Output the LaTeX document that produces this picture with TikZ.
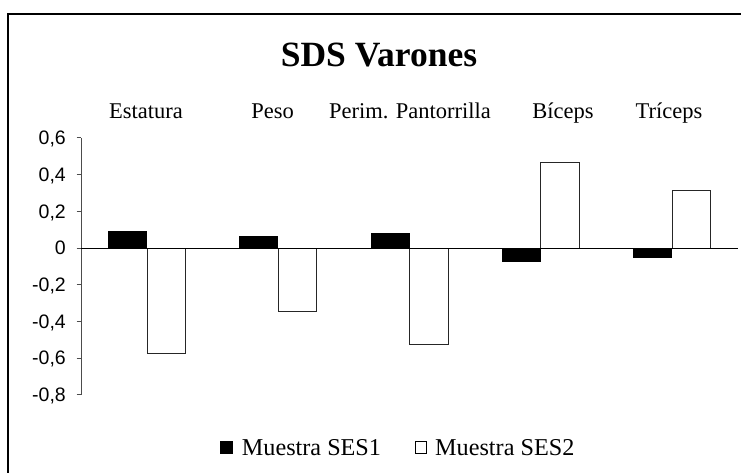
\documentclass[tikz,border=0pt]{standalone}
\usepackage{fontspec}
\setmainfont{Liberation Serif}
\newfontfamily\axisfont{Liberation Sans}

\tikzset{
  catlabel/.style={anchor=base, inner sep=0pt, font=\fontsize{22.5}{27}\selectfont},
  leglabel/.style={anchor=base west, inner sep=0pt, font=\fontsize{24.2}{29}\selectfont},
  ticklabel/.style={anchor=base east, inner sep=0pt, font=\axisfont\fontsize{19.5}{23}\selectfont},
  barone/.style={fill=black},
  bartwo/.style={draw=black!85, fill=white, line width=0.9pt},
  keybox/.style={inner sep=0pt, minimum size=#1},
}

\begin{document}
\begin{tikzpicture}[x=1pt, y=-1pt]
  \useasboundingbox (0,0) rectangle (741,472);
  % frame of the chart, cut at right and bottom
  \draw[line width=1.6pt] (8,14) rectangle (760,490);
  \node[anchor=base, inner sep=0pt, font=\fontsize{35.5}{42}\selectfont\bfseries] (title) at (379,66.3) {SDS Varones};

  % category names
  \foreach \name/\cx/\lab in {est/146/Estatura, peso/272.5/Peso, perim/410/Perim. Pantorrilla,
                              bic/563/Bíceps, tric/669/Tríceps}
    \node[catlabel] (\name) at (\cx,118) {\lab};

  % value axis
  \draw[black!70, line width=0.9pt] (81,137.9) -- (81,394.8);
  \foreach \v/\t/\k in {0.6/{0,6}/a, 0.4/{0,4}/b, 0.2/{0,2}/c, 0/0/d,
                        -0.2/{-0,2}/e, -0.4/{-0,4}/f, -0.6/{-0,6}/g, -0.8/{-0,8}/h} {
    \draw[black!70, line width=0.9pt] (76.5,{248-\v*183.5}) -- (81,{248-\v*183.5});
    \node[ticklabel] (tick\k) at (66,{254.8-\v*183.5}) {\t};
  }

  % bars: Muestra SES1 / Muestra SES2
  \foreach \i/\a/\b in {0/0.095/-0.575, 1/0.064/-0.347, 2/0.083/-0.523,
                        3/-0.076/0.467, 4/-0.056/0.312} {
    \fill[barone] ({108+131.25*\i},248) rectangle ({147+131.25*\i},{248-\a*183.5});
    \draw[bartwo] ({147+131.25*\i},248) rectangle ({185.5+131.25*\i},{248-\b*183.5});
  }
  \draw[line width=0.9pt] (81,248) -- (738,248);

  % legend
  \node[keybox=13pt, fill=black] (keyone) at (226,447.5) {};
  \node[leglabel] (legone) at (241.7,455.5) {Muestra SES1};
  \node[keybox=11.5pt, draw, fill=white, line width=0.6pt] (keytwo) at (421,447.5) {};
  \node[leglabel] (legtwo) at (435,455.5) {Muestra SES2};
\end{tikzpicture}
\end{document}
